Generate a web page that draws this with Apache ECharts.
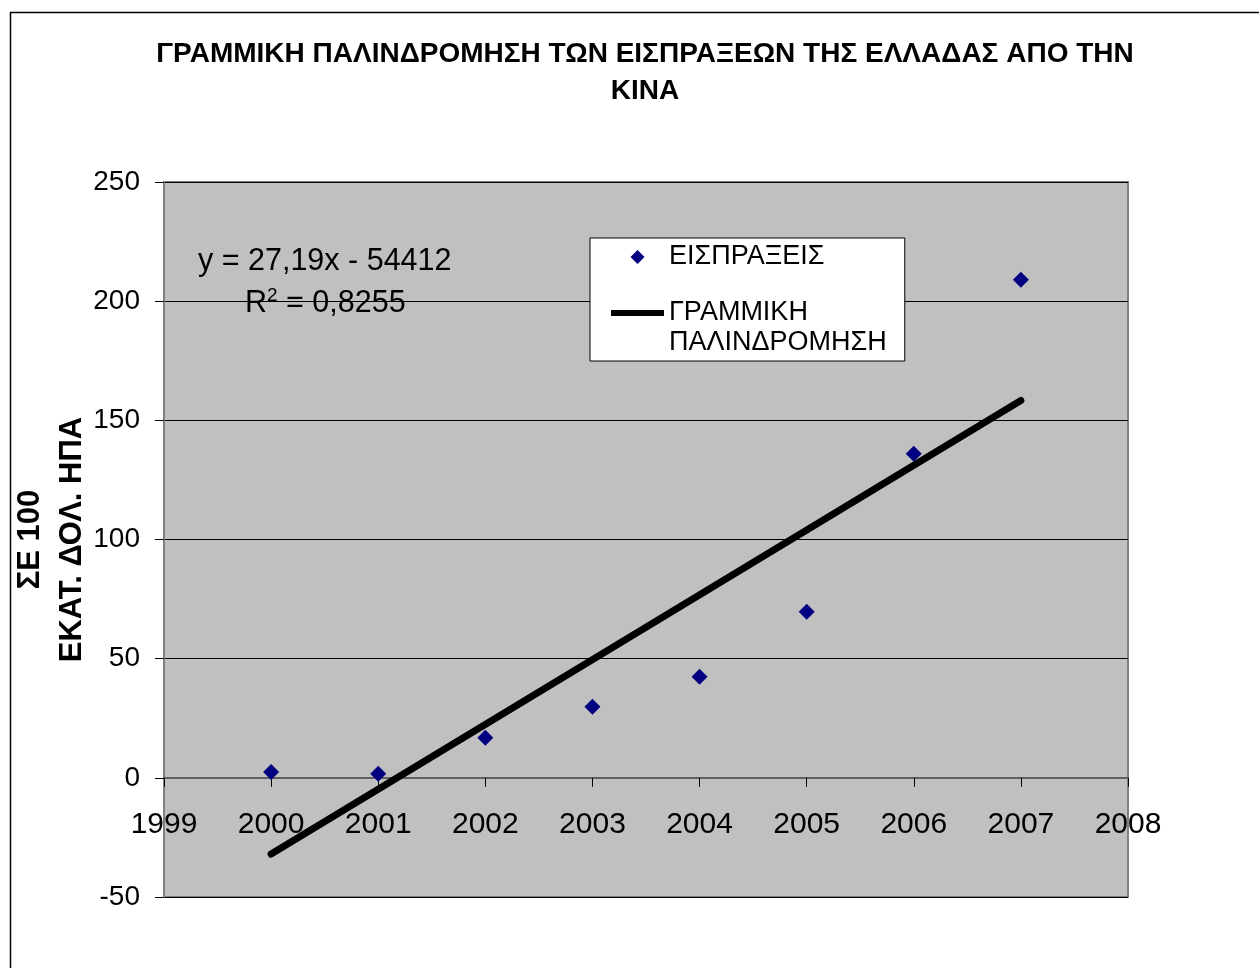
<!DOCTYPE html>
<html>
<head>
<meta charset="utf-8">
<script src="https://cdn.jsdelivr.net/npm/echarts@6/dist/echarts.min.js"></script>
<style>
  html, body { margin: 0; padding: 0; background: #fff; }
  #chart { width: 1259px; height: 968px; }
</style>
</head>
<body>
<div id="chart"></div>
<script>
// years and receipts (hundreds of million USD)
const years = [2000, 2001, 2002, 2003, 2004, 2005, 2006, 2007]
const receipts = [2.5, 1.7, 16.8, 29.8, 42.4, 69.7, 136, 209]
// regression line end points
const trendYears = [2000, 2007]
const trendValues = [-32, 158.3]
const yTicks = { min: -50, max: 250, step: 50 }
const xTicks = { min: 1999, max: 2008, step: 1 }

const FONT = '"Liberation Sans", Arial, sans-serif'
const TREND_NAME = 'ΓΡΑΜΜΙΚΗ\nΠΑΛΙΝΔΡΟΜΗΣΗ'

const GRID_TOP = 182
const GRID_BOTTOM = 71
const plotHeight = 968 - GRID_TOP - GRID_BOTTOM
// x axis sits on the zero line
const zeroOffset = -plotHeight * (0 - yTicks.min) / (yTicks.max - yTicks.min)

const chart = echarts.init(document.getElementById('chart'))

const option = {
  backgroundColor: '#fff',
  animation: false,
  textStyle: { fontFamily: FONT },
  title: {
    text: 'ΓΡΑΜΜΙΚΗ ΠΑΛΙΝΔΡΟΜΗΣΗ ΤΩΝ ΕΙΣΠΡΑΞΕΩΝ ΤΗΣ ΕΛΛΑΔΑΣ ΑΠΟ ΤΗΝ\nΚΙΝΑ',
    left: 640,
    top: 31,
    textAlign: 'center',
    textStyle: {
      fontFamily: FONT,
      fontSize: 28,
      fontWeight: 'bold',
      color: '#000',
      lineHeight: 37
    }
  },
  legend: {
    orient: 'vertical',
    left: 590,
    top: 238,
    backgroundColor: '#fff',
    borderColor: '#000',
    borderWidth: 1,
    padding: [4, 18, 3, 21],
    itemWidth: 53,
    itemHeight: 14,
    itemGap: -4,
    textStyle: { fontFamily: FONT, fontSize: 27, color: '#000', lineHeight: 30 },
    // blank first line keeps the line icon level with "ΓΡΑΜΜΙΚΗ"
    formatter: name => (name === TREND_NAME ? '\n' + name : name),
    data: [
      { name: 'ΕΙΣΠΡΑΞΕΙΣ', icon: 'path://M7,0 L14,7 L7,14 L0,7 Z' },
      { name: TREND_NAME, icon: 'path://M0,0 L53,0 L53,6 L0,6 Z' }
    ]
  },
  grid: {
    left: 164,
    right: 131,
    top: GRID_TOP,
    bottom: GRID_BOTTOM,
    outerBoundsMode: 'none',
    containLabel: false,
    show: true,
    backgroundColor: '#c0c0c0',
    borderColor: '#808080',
    borderWidth: 2
  },
  xAxis: {
    type: 'value',
    min: xTicks.min,
    max: xTicks.max,
    interval: xTicks.step,
    offset: zeroOffset,
    axisLine: { onZero: false, lineStyle: { color: '#606060', width: 2 } },
    axisTick: { show: true, inside: false, length: 9, lineStyle: { color: '#000' } },
    axisLabel: {
      margin: 32,
      fontSize: 30,
      color: '#000',
      fontFamily: FONT,
      showMinLabel: true,
      showMaxLabel: true,
      formatter: v => String(v)
    },
    splitLine: { show: false }
  },
  yAxis: {
    type: 'value',
    min: yTicks.min,
    max: yTicks.max,
    interval: yTicks.step,
    name: 'ΣΕ 100\nΕΚΑΤ. ΔΟΛ. ΗΠΑ',
    nameLocation: 'middle',
    nameRotate: 90,
    nameGap: 71,
    nameMoveOverlap: false,
    nameTextStyle: {
      fontFamily: FONT,
      fontSize: 31,
      fontWeight: 'bold',
      color: '#000',
      lineHeight: 42
    },
    axisLine: { show: true, lineStyle: { color: '#808080', width: 2 } },
    axisTick: { show: true, length: 9, lineStyle: { color: '#000' } },
    axisLabel: { margin: 24, fontSize: 28, color: '#000', fontFamily: FONT },
    splitLine: { show: true, lineStyle: { color: '#000', width: 1 } }
  },
  graphic: [
    {
      // outer chart frame
      type: 'rect',
      left: 8,
      top: 10,
      shape: { width: 1300, height: 1000 },
      style: { fill: 'none', stroke: '#000', lineWidth: 1.5 },
      silent: true,
      z: -1
    },
    {
      type: 'text',
      left: 198,
      top: 246,
      style: {
        text: 'y = 27,19x - 54412',
        font: '30.5px ' + FONT,
        fill: '#000'
      },
      z: 10
    },
    {
      type: 'text',
      left: 245,
      top: 286,
      style: {
        text: '{b|R}{s|2}{b| = 0,8255}',
        rich: {
          b: { fontSize: 30.5, fontFamily: FONT, color: '#000', verticalAlign: 'bottom' },
          s: { fontSize: 19, fontFamily: FONT, color: '#000', verticalAlign: 'top', padding: [0, 0, 14, 0] }
        }
      },
      z: 10
    }
  ],
  series: [
    {
      name: 'ΕΙΣΠΡΑΞΕΙΣ',
      type: 'scatter',
      symbol: 'diamond',
      symbolSize: 16,
      itemStyle: { color: '#000080', opacity: 1 },
      data: years.map((y, i) => [y, receipts[i]]),
      z: 3
    },
    {
      name: TREND_NAME,
      type: 'line',
      symbol: 'none',
      lineStyle: { color: '#000', width: 7, cap: 'round' },
      itemStyle: { color: '#000' },
      data: trendYears.map((y, i) => [y, trendValues[i]]),
      z: 4
    }
  ]
}

chart.setOption(option)
</script>
</body>
</html>
